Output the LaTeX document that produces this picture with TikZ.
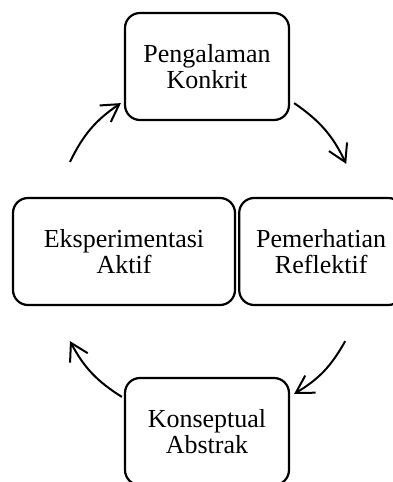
\documentclass[tikz,border=0pt]{standalone}
\usepackage{fontspec}
\setmainfont{Liberation Serif}
\usetikzlibrary{calc}
\usetikzlibrary{arrows.meta, positioning}

\begin{document}
\begin{tikzpicture}[
        x=0.5pt, y=0.5pt,
        font=\fontsize{13}{12.7}\selectfont,
        box/.style={draw, line width=1.1pt, rounded corners=7.5pt, align=center, minimum width=82pt, minimum height=53.5pt, inner sep=2pt},
        ar/.style={-{Straight Barb[length=8.5pt, width=10pt]}, line width=1pt, bend left=15}
    ]
        \useasboundingbox (0,0) rectangle (392,482);

        \node[box]                        (pk) at (207,415.5) {Pengalaman\\Konkrit};
        \node[box, minimum width=111pt]   (ea) at (124,230.5) {Eksperimentasi\\Aktif};
        \node[box, right=1pt of ea]       (pr) {Pemerhatian\\Reflektif};
        \node[box]                        (ka) at (207,50.5)  {Konseptual\\Abstrak};

        \draw[ar] ($(ea.north)+(-54,35)$)       to ($(pk.south west)+(-3,18)$);
        \draw[ar] ($(pk.south east)+(4,18)$)    to ($(pr.north)+(25,33)$);
        \draw[ar] ($(pr.south)+(24,-35)$)       to ($(ka.north east)+(4,-17)$);
        \draw[ar] ($(ka.north west)+(-2,-20)$)  to ($(ea.south)+(-54,-35)$);
    \end{tikzpicture}
\end{document}
